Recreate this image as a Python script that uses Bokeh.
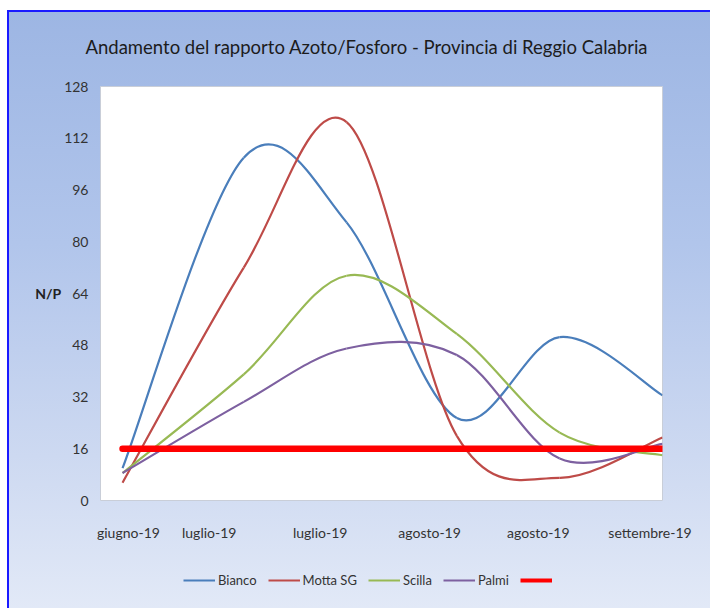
import numpy as np
from bokeh.plotting import figure
from bokeh.layouts import column
from bokeh.models import ColumnDataSource, FixedTicker, Legend, LegendItem, Range1d
from bokeh.embed import file_html
from bokeh.resources import INLINE

# ---------------- data ----------------
days = [3, 19.5, 33.5, 48.5, 62.5, 76.5]          # sampling day (from axis start)
bianco = [10, 106, 86, 25.5, 50.5, 32.5]
motta_sg = [5.5, 72, 117, 20, 7, 19.5]
scilla = [8.5, 39, 69.5, 51.5, 21, 14]
palmi = [8.5, 30.5, 47, 45, 13, 17.5]
limite = [16, 16, 16, 16, 16, 16]

tick_days = [3.8, 14.8, 29.9, 44.8, 59.6, 74.8]
tick_labels = ["giugno-19", "luglio-19", "luglio-19", "agosto-19", "agosto-19", "settembre-19"]
y_ticks = [0, 16, 32, 48, 64, 80, 96, 112, 128]

series_names = ["Bianco", "Motta SG", "Scilla", "Palmi"]
series_values = [bianco, motta_sg, scilla, palmi]
series_colors = ["#4a7ebb", "#be4b48", "#98b954", "#7d60a0"]
limit_color = "#ff0000"

FONT = "Lato"


def smooth_segments(xs, ys):
    """Catmull-Rom style cubic Bezier segments through the data points."""
    pts = np.column_stack([xs, ys]).astype(float)
    n = len(pts)
    out = {k: [] for k in ["x0", "y0", "x1", "y1", "cx0", "cy0", "cx1", "cy1"]}
    for i in range(n - 1):
        p0 = pts[i - 1] if i > 0 else pts[i]
        p1 = pts[i]
        p2 = pts[i + 1]
        p3 = pts[i + 2] if i + 2 < n else pts[i + 1]
        c0 = p1 + (p2 - p0) / 6.0
        c1 = p2 - (p3 - p1) / 6.0
        out["x0"].append(p1[0]); out["y0"].append(p1[1])
        out["x1"].append(p2[0]); out["y1"].append(p2[1])
        out["cx0"].append(c0[0]); out["cy0"].append(c0[1])
        out["cx1"].append(c1[0]); out["cy1"].append(c1[1])
    return out


W = 710
LEG_H = 48
p = figure(width=W, height=560,
           x_range=Range1d(0, 76.5), y_range=Range1d(0, 128),
           output_backend="svg", toolbar_location=None,
           min_border_left=100, min_border_right=48,
           min_border_top=86, min_border_bottom=60)

p.border_fill_color = None
p.background_fill_color = "white"
p.outline_line_color = "#c9ced8"
p.outline_line_width = 1
p.xgrid.visible = False
p.ygrid.visible = False

# title
p.title.text = "Andamento del rapporto Azoto/Fosforo - Provincia di Reggio Calabria"
p.title.text_font = FONT
p.title.text_font_size = "18.5px"
p.title.text_font_style = "normal"
p.title.text_color = "#1c1c1c"
p.title.align = "left"
p.title.offset = -15
p.title.standoff = 58

# axes
p.yaxis.ticker = FixedTicker(ticks=y_ticks)
p.yaxis.axis_label = "N/P"
p.yaxis.axis_label_orientation = "horizontal"
p.yaxis.axis_label_text_font = FONT
p.yaxis.axis_label_text_font_size = "14px"
p.yaxis.axis_label_text_font_style = "bold"
p.yaxis.axis_label_text_color = "#222222"
p.yaxis.axis_label_standoff = 0
p.yaxis.major_label_standoff = 6

p.xaxis.ticker = FixedTicker(ticks=tick_days)
p.xaxis.major_label_overrides = {t: lab for t, lab in zip(tick_days, tick_labels)}
p.xaxis.major_label_standoff = 17

for ax in (p.xaxis, p.yaxis):
    ax.axis_line_color = None
    ax.major_tick_line_color = None
    ax.minor_tick_line_color = None
    ax.major_label_text_font = FONT
    ax.major_label_text_font_size = "14px"
    ax.major_label_text_color = "#333333"

# series (smoothed, as in the original spreadsheet chart)
for vals, col in zip(series_values, series_colors):
    src = ColumnDataSource(smooth_segments(days, vals))
    p.bezier(x0="x0", y0="y0", x1="x1", y1="y1", cx0="cx0", cy0="cy0",
             cx1="cx1", cy1="cy1", source=src, line_color=col, line_width=2.2)

p.line(days, limite, line_color=limit_color, line_width=6.5, line_cap="round")

# ---------------- legend strip ----------------
leg = figure(width=W, height=LEG_H, x_range=Range1d(0, 1), y_range=Range1d(0, 1),
             output_backend="svg", toolbar_location=None,
             x_axis_type=None, y_axis_type=None,
             min_border=0)
leg.border_fill_color = None
leg.background_fill_color = None
leg.outline_line_color = None
leg.xgrid.visible = False
leg.ygrid.visible = False

legend_items = []
for name, col in zip(series_names, series_colors):
    proxy = leg.line(x=[-2, -1], y=[-2, -2], line_color=col, line_width=2.2)
    legend_items.append(LegendItem(label=name, renderers=[proxy]))
proxy_lim = leg.line(x=[-2, -1], y=[-2, -2], line_color=limit_color, line_width=4)
legend_items.append(LegendItem(label=" ", renderers=[proxy_lim]))

legend = Legend(items=legend_items, orientation="horizontal",
                location=(83, 18), padding=0, spacing=11,
                glyph_width=32, glyph_height=20, label_standoff=3,
                label_text_font=FONT, label_text_font_size="13px",
                label_text_color="#333333",
                background_fill_alpha=0, border_line_color=None)
leg.add_layout(legend, "center")

layout = column(p, leg, spacing=0)
layout.styles = {
    "background": "linear-gradient(to bottom, #9cb5e3 0%, #b1c5eb 40%, #cdd9f1 75%, #e2e9f7 100%)",
    "box-shadow": "inset 7px 10px 0 0 #ffffff, inset 9px 12px 0 0 #1a1aff",
}

open("out.html", "w").write(file_html(layout, INLINE))
